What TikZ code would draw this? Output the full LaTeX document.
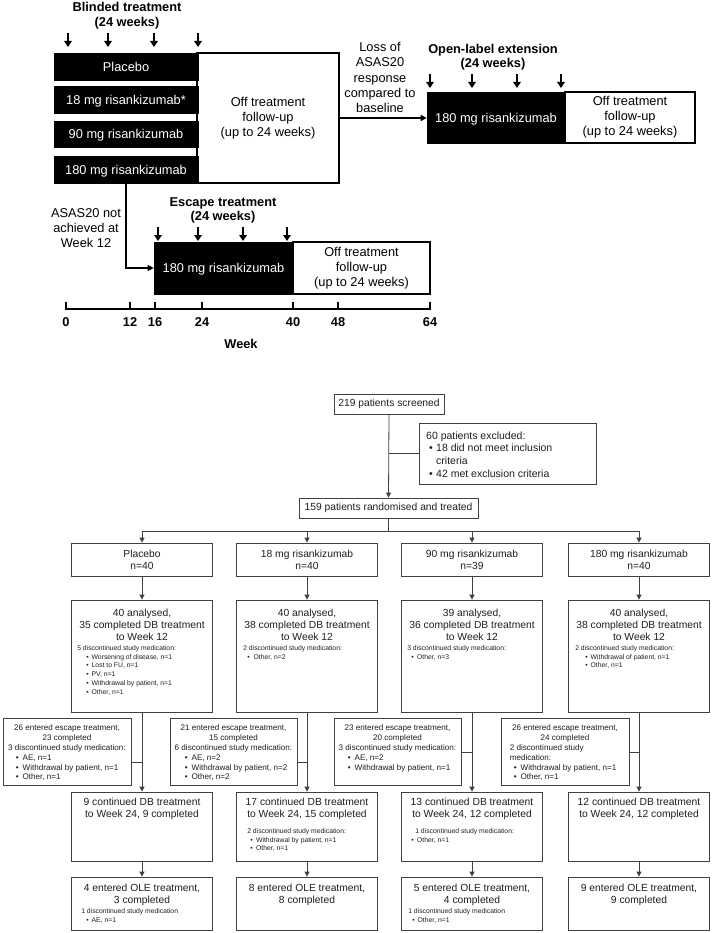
\documentclass[tikz,border=0pt]{standalone}
\usepackage{fontspec}
\setmainfont{Liberation Sans}
\usetikzlibrary{arrows.meta}
\newcommand{\fsz}[2]{\fontsize{#1}{#2}\selectfont}
\newcommand{\bi}[2]{\hspace*{#1}\textbullet\hspace{#2}}
\begin{document}
\begin{tikzpicture}[x=1pt,y=-1pt,
  bar/.style={fill=black,draw=black,line width=0.6pt,inner sep=0,text=white,font=\fsz{12.8}{15},text depth=0pt},
  offbox/.style={draw=black,line width=1.3pt,fill=white,inner sep=0,align=center,font=\fsz{12.8}{15}},
  ttl/.style={font=\bfseries\fsz{12.8}{14.5},align=center,inner sep=0},
  lbl/.style={font=\fsz{12.8}{15.2},align=center,inner sep=0},
  dn/.style={line width=1.8pt,-{Triangle[length=6pt,width=7.5pt]}},
  conna/.style={line width=1.3pt,-{Triangle[length=6pt,width=6pt]}},
  tick/.style={font=\bfseries\fsz{12.8}{15},inner sep=0},
  fbox/.style={draw=black!75,line width=0.8pt,inner sep=0,fill=white},
  big/.style={font=\fsz{10.3}{12},align=center,inner sep=0,text=black!88},
  sm/.style={font=\fsz{6.8}{8.85},align=left,inner sep=0,text=black!88},
  esc/.style={font=\fsz{8.1}{9.7},align=center,inner sep=0,text=black!88},
  escl/.style={font=\fsz{8.1}{9.7},align=left,inner sep=0,text=black!88},
  flow/.style={draw=black!75,line width=0.8pt},
  farr/.style={flow,-{Triangle[length=5pt,width=5pt]}},
]
\useasboundingbox[fill=white] (0,0) rectangle (713,933);

% ---------------- top schematic ----------------
\node[ttl] (bt) at (127,15.5) {Blinded treatment\\(24 weeks)};
\foreach \x in {68,108,154,198} \draw[dn] (\x,33) -- (\x,47);

\node[offbox,minimum width=142pt,minimum height=130pt] (off) at (268,118) {Off treatment\\follow-up\\(up to 24 weeks)};
\node[bar,minimum width=144pt,minimum height=27pt] (b0) at (126,66.5) {Placebo};
\node[bar,minimum width=144pt,minimum height=27pt] (b18) at (126,99.5) {18 mg risankizumab*};
\node[bar,minimum width=144pt,minimum height=26pt] (b90) at (126,134) {90 mg risankizumab};
\node[bar,minimum width=144pt,minimum height=27pt] (b180) at (126,169.5) {180 mg risankizumab};

\node[lbl] (loss) at (380,77.5) {Loss of\\ASAS20\\response\\compared to\\baseline};
\node[ttl] (olt) at (493,57) {Open-label extension\\(24 weeks)};
\foreach \x in {430,472,517,561} \draw[dn] (\x,74) -- (\x,88);
\node[offbox,minimum width=130pt,minimum height=51pt] (oleo) at (630,117.5) {Off treatment\\follow-up\\(up to 24 weeks)};
\node[bar,minimum width=138pt,minimum height=51pt] (oleb) at (496,117.5) {180 mg risankizumab};
\draw[conna] (off.east) -- (off.east -| oleb.west);

\node[lbl] (asas) at (86,228) {ASAS20 not\\achieved at\\Week 12};
\node[ttl] (et) at (223,210.5) {Escape treatment\\(24 weeks)};
\foreach \x in {158,198,243,287} \draw[dn] (\x,227) -- (\x,241);
\node[offbox,minimum width=137pt,minimum height=52pt] (esco) at (361.5,268) {Off treatment\\follow-up\\(up to 24 weeks)};
\node[bar,minimum width=139pt,minimum height=52pt] (escb) at (223.5,268) {180 mg risankizumab};
\draw[conna] (b180.south) |- (escb.west);

\draw[line width=2pt] (66,309) -- (430,309);
\foreach \x/\l in {66/0,130/12,155/16,202/24,293/40,338/48,430/64} {
  \draw[line width=1.6pt] (\x,310) -- (\x,302);
  \node[tick] (tk\l) at (\x,322) {\l};
}
\node[tick] (wk) at (241,344) {Week};

% ---------------- flow chart ----------------
\node[fbox,big,minimum width=110pt,minimum height=20pt] (scr) at (389,404) {219 patients screened};
\node[fbox,minimum width=177pt,minimum height=61pt] (exc) at (507.5,453.5) {};
\node[font=\fsz{10.5}{12.7},align=left,inner sep=0,text=black!88,anchor=north west] (exct) at (426,431.2)
  {60 patients excluded:\\\bi{3pt}{3.3pt}18 did not meet inclusion\\\hspace*{10pt}criteria\\\bi{3pt}{3.3pt}42 met exclusion criteria};
\node[fbox,big,minimum width=179pt,minimum height=20pt] (rand) at (388.5,508) {159 patients randomised and treated};
\draw[farr] (scr.south) -- (rand.north);
\draw[flow] (exc.west) -- (exc.west -| scr.south);
\coordinate (sp) at ([yshift=-13pt]rand.south);
\draw[flow] (rand.south) -- (sp);

% group boxes
\node[fbox,big,minimum width=141pt,minimum height=33pt] (g1) at (142,559.5) {Placebo\\n=40};
\node[fbox,big,minimum width=141pt,minimum height=33pt] (g2) at (307,559.5) {18 mg risankizumab\\n=40};
\node[fbox,big,minimum width=141pt,minimum height=33pt] (g3) at (472,559.5) {90 mg risankizumab\\n=39};
\node[fbox,big,minimum width=141pt,minimum height=33pt] (g4) at (639,559.5) {180 mg risankizumab\\n=40};
\draw[flow] (sp -| g1.north) -- (sp -| g4.north);
\foreach \g in {g1,g2,g3,g4} \draw[farr] (sp -| \g.north) -- (\g.north);

% analysis boxes
\foreach \i/\x in {1/142,2/307,3/472,4/639} {
  \node[fbox,minimum width=141pt,minimum height=112pt] (a\i) at (\x,656) {};
  \node[fbox,minimum width=141pt,minimum height=69pt] (d\i) at (\x,826.5) {};
  \node[fbox,minimum width=141pt,minimum height=53pt] (o\i) at (\x,903.5) {};
}
\node[big,anchor=north] (a1t) at ([yshift=-9.3pt]a1.north) {40 analysed,\\35 completed DB treatment\\to Week 12};
\node[big,anchor=north] (a2t) at ([yshift=-9.3pt]a2.north) {40 analysed,\\38 completed DB treatment\\to Week 12};
\node[big,anchor=north] (a3t) at ([yshift=-9.3pt]a3.north) {39 analysed,\\36 completed DB treatment\\to Week 12};
\node[big,anchor=north] (a4t) at ([yshift=-9.3pt]a4.north) {40 analysed,\\38 completed DB treatment\\to Week 12};
\node[sm,anchor=north west] (a1s) at ([xshift=6pt,yshift=-45.5pt]a1.north west)
  {5 discontinued study medication:\\\bi{9pt}{3pt}Worsening of disease, n=1\\\bi{9pt}{3pt}Lost to FU, n=1\\\bi{9pt}{3pt}PV, n=1\\\bi{9pt}{3pt}Withdrawal by patient, n=1\\\bi{9pt}{3pt}Other, n=1};
\node[sm,anchor=north west] (a2s) at ([xshift=7pt,yshift=-45.5pt]a2.north west)
  {2 discontinued study medication:\\\bi{4pt}{4pt}Other, n=2};
\node[sm,anchor=north west] (a3s) at ([xshift=6pt,yshift=-45.5pt]a3.north west)
  {3 discontinued study medication:\\\bi{4pt}{3.5pt}Other, n=3};
\node[sm,anchor=north west] (a4s) at ([xshift=7pt,yshift=-45.5pt]a4.north west)
  {2 discontinued study medication:\\\bi{10pt}{3pt}Withdrawal of patient, n=1\\\bi{10pt}{3pt}Other, n=1};

% DB boxes text
\node[big,anchor=north] (d1t) at ([yshift=-6.3pt]d1.north) {9 continued DB treatment\\to Week 24, 9 completed};
\node[big,anchor=north] (d2t) at ([yshift=-6.3pt]d2.north) {17 continued DB treatment\\to Week 24, 15 completed};
\node[big,anchor=north] (d3t) at ([yshift=-6.3pt]d3.north) {13 continued DB treatment\\to Week 24, 12 completed};
\node[big,anchor=north] (d4t) at ([yshift=-6.3pt]d4.north) {12 continued DB treatment\\to Week 24, 12 completed};
\node[sm,anchor=north west] (d2s) at ([xshift=11pt,yshift=-36.5pt]d2.north west)
  {2 discontinued study medication:\\\bi{3pt}{3.5pt}Withdrawal by patient, n=1\\\bi{3pt}{3.5pt}Other, n=1};
\node[sm,anchor=north west] (d3s) at ([xshift=10pt,yshift=-36.5pt]d3.north west)
  {\hspace*{4pt}1 discontinued study medication:\\\textbullet\hspace{3.5pt}Other, n=1};

% OLE boxes text
\node[big,anchor=north] (o1t) at ([yshift=-7.3pt]o1.north) {4 entered OLE treatment,\\3 completed};
\node[big,anchor=north] (o2t) at ([yshift=-7.3pt]o2.north) {8 entered OLE treatment,\\8 completed};
\node[big,anchor=north] (o3t) at ([yshift=-7.3pt]o3.north) {5 entered OLE treatment,\\4 completed};
\node[big,anchor=north] (o4t) at ([yshift=-7.3pt]o4.north) {9 entered OLE treatment,\\9 completed};
\node[sm,anchor=north west] (o1s) at ([xshift=10pt,yshift=-31.5pt]o1.north west)
  {1 discontinued study medication\\\bi{5pt}{3pt}AE, n=1};
\node[sm,anchor=north west] (o3s) at ([xshift=7pt,yshift=-31.5pt]o3.north west)
  {1 discontinued study medication\\\bi{4pt}{3pt}Other, n=1};

% escape boxes
\node[fbox,minimum width=128pt,minimum height=67pt] (e1) at (67,751.5) {};
\node[fbox,minimum width=127pt,minimum height=67pt] (e2) at (233.5,751.5) {};
\node[fbox,minimum width=127pt,minimum height=67pt] (e3) at (397.5,751.5) {};
\node[fbox,minimum width=128pt,minimum height=67pt] (e4) at (565,751.5) {};
\node[esc,anchor=north] (e1t) at ([yshift=-7pt]e1.north) {26 entered escape treatment,\\23 completed\\3 discontinued study medication:};
\node[esc,anchor=north] (e2t) at ([yshift=-7pt]e2.north) {21 entered escape treatment,\\15 completed\\6 discontinued study medication:};
\node[esc,anchor=north] (e3t) at ([yshift=-7pt]e3.north) {23 entered escape treatment,\\20 completed\\3 discontinued study medication:};
\node[esc,anchor=north] (e4t) at ([yshift=-7pt]e4.north) {26 entered escape treatment,\\24 completed};
\node[escl,anchor=north west] (e1s) at ([xshift=13pt,yshift=-37pt]e1.north west)
  {\textbullet\hspace{4pt}AE, n=1\\\textbullet\hspace{4pt}Withdrawal by patient, n=1\\\textbullet\hspace{4pt}Other, n=1};
\node[escl,anchor=north west] (e2s) at ([xshift=15pt,yshift=-37pt]e2.north west)
  {\textbullet\hspace{4pt}AE, n=2\\\textbullet\hspace{4pt}Withdrawal by patient, n=2\\\textbullet\hspace{4pt}Other, n=2};
\node[escl,anchor=north west] (e3s) at ([xshift=14pt,yshift=-37pt]e3.north west)
  {\textbullet\hspace{4pt}AE, n=2\\\textbullet\hspace{4pt}Withdrawal by patient, n=1};
\node[escl,anchor=north west] (e4s) at ([xshift=9pt,yshift=-27pt]e4.north west)
  {2 discontinued study\\medication:\\\bi{4pt}{4pt}Withdrawal by patient, n=1\\\bi{4pt}{4pt}Other, n=1};

% vertical connectors
\foreach \i in {1,2,3,4} {
  \draw[farr] (g\i.south) -- (a\i.north);
  \draw[farr] (a\i.south) -- (d\i.north);
  \draw[farr] (d\i.south) -- (o\i.north);
}
\coordinate (e1c) at ([yshift=-10.5pt]e1.east);
\coordinate (e2c) at ([yshift=-10.5pt]e2.east);
\coordinate (e3c) at ([yshift=-0.5pt]e3.east);
\coordinate (e4c) at ([yshift=-0.5pt]e4.east);
\draw[flow] (e1c) -- (e1c -| a1.south);
\draw[flow] (e2c) -- (e2c -| a2.south);
\draw[flow] (e3c) -- (e3c -| a3.south);
\draw[flow] (e4c) -- (e4c -| a4.south);
\end{tikzpicture}
\end{document}
